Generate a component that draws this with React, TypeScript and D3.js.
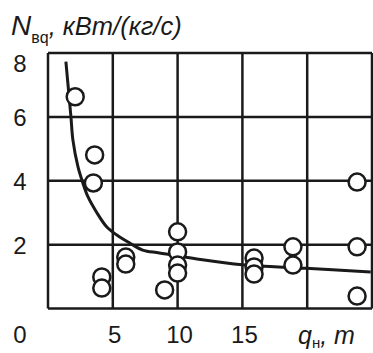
import React from 'react';
import * as d3 from 'd3';

// measured points (q, N)
const pointQ = [2.1, 3.6, 3.5, 23.85, 10, 6.0, 6.0, 4.15, 4.15, 9.0, 10, 10, 10, 15.9, 15.9, 15.9, 18.9, 18.9, 23.85, 23.85];
const pointN = [6.63, 4.81, 3.93, 3.96, 2.4, 1.61, 1.39, 0.99, 0.64, 0.58, 1.77, 1.36, 1.11, 1.58, 1.3, 1.08, 1.93, 1.36, 1.93, 0.39];

// trend curve
const curveQ = [1.38, 1.77, 1.92, 2.31, 2.69, 3.08, 3.77, 4.54, 5.31, 6.31, 7.3, 8.6, 11.5, 15, 19.9, 24.9];
const curveN = [7.73, 6.0, 5.28, 4.44, 3.93, 3.5, 3.0, 2.55, 2.3, 2.05, 1.83, 1.74, 1.55, 1.37, 1.26, 1.14];

const xGrid = [0, 5, 10, 15, 20, 25];
const yGrid = [0, 2, 4, 6, 8];
const xTickLabels = ['5', '10', '15'];
const yTickLabels = ['2', '4', '6', '8'];

const ink = '#1a1a1a';
const font = 'Arial, "Liberation Sans", sans-serif';

export default function App() {
  const x = d3.scaleLinear().domain([0, 25]).range([48, 372]);
  const y = d3.scaleLinear().domain([0, 8]).range([308.5, 53]);

  const line = d3
    .line<number>()
    .x((d, i) => x(curveQ[i]))
    .y(d => y(d))
    .curve(d3.curveCatmullRom.alpha(0.5));

  return (
    <svg width={373} height={353} style={{ position: 'absolute', left: 0, top: 0, background: '#fff' }}>
      <rect width={373} height={353} fill="#fff" />
      {/* grid */}
      {xGrid.map(v => (
        <line key={'x' + v} x1={x(v)} x2={x(v)} y1={y(0)} y2={y(8)} stroke={ink} strokeWidth={2.5} />
      ))}
      {yGrid.map(v => (
        <line key={'y' + v} x1={x(0)} x2={x(25)} y1={y(v)} y2={y(v)} stroke={ink} strokeWidth={2.5} />
      ))}

      {/* fitted curve */}
      <path d={line(curveN) || ''} fill="none" stroke={ink} strokeWidth={3} />

      {/* points */}
      {pointN.map((v, i) => (
        <circle key={i} cx={x(pointQ[i])} cy={y(v)} r={8.5} fill="#fff" stroke={ink} strokeWidth={2.5} />
      ))}

      {/* tick labels */}
      <g fontFamily={font} fontSize={24} fill={ink} textAnchor="middle">
        {yTickLabels.map(t => (
          <text key={t} x={20} y={Math.max(y(+t) + 9, 72)}>{t}</text>
        ))}
        <text x={20} y={343}>0</text>
        {xTickLabels.map(t => (
          <text key={t} x={x(+t) + 2} y={343}>{t}</text>
        ))}
      </g>

      {/* x axis title */}
      <text x={298} y={344} fontFamily={font} fontSize={25} fill={ink} fontStyle="italic">
        q
        <tspan fontSize={15} dy={4} fontStyle="normal">н</tspan>
        <tspan dy={-4}>, m</tspan>
      </text>

      {/* y axis title */}
      <text x={11} y={35} fontFamily={font} fill={ink} fontStyle="italic">
        <tspan fontSize={28}>N</tspan>
        <tspan fontSize={16} dy={8} fontStyle="normal">вq</tspan>
        <tspan fontSize={25.5} dy={-8}>, кВm/(кг/с)</tspan>
      </text>
    </svg>
  );
}
